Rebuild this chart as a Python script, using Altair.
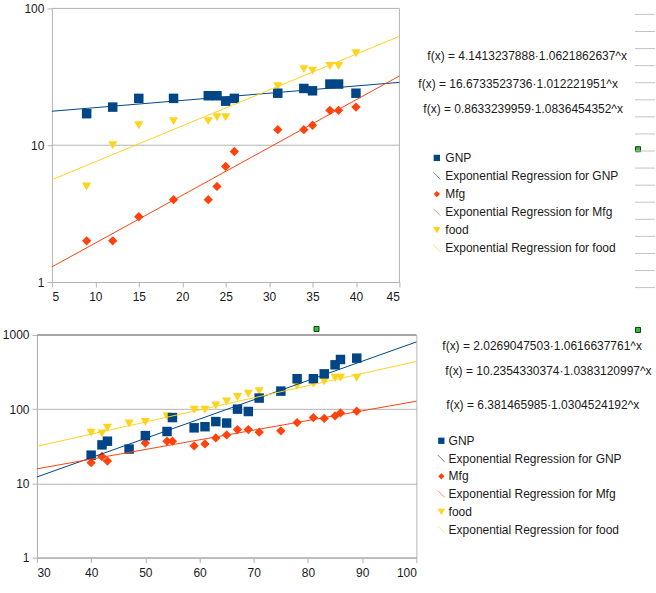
import altair as alt
import pandas as pd

FONT = "Liberation Sans"
GRAY = "#b3b3b3"
TXT = "#1a1a1a"

SERIES = ["GNP", "Mfg", "food"]
COLORS = ["#004586", "#ff420e", "#ffd320"]
LINE_COLORS = ["#1f4e82", "#f0603a", "#f5d54a"]
SHAPES = ["square", "diamond", "triangle-down"]
SIZES = [90, 85, 120]
LEG_SIZES = [40, 40, 55]

# ---------------- top chart data ----------------
top_gnp_x = [9, 12, 15, 19, 23, 24, 25, 26, 31, 34, 35, 37, 38, 40]
top_gnp_y = [17, 19, 22, 22, 23, 23, 21, 22, 24, 26, 25, 28, 28, 24]
top_mfg_x = [9, 12, 15, 19, 23, 24, 25, 26, 31, 34, 35, 37, 38, 40]
top_mfg_y = [2, 2, 3, 4, 4, 5, 7, 9, 13, 13, 14, 18, 18, 19]
top_food_x = [9, 12, 15, 19, 23, 24, 25, 31, 34, 35, 37, 38, 40]
top_food_y = [5, 10, 14, 15, 15, 16, 16, 27, 36, 35, 38, 38, 47]
top_reg_a = [16.6733523736, 0.8633239959, 4.1413237888]
top_reg_b = [1.012221951, 1.0836454352, 1.0621862637]
top_equations = [
    "f(x) = 4.1413237888·1.0621862637^x",
    "f(x) = 16.6733523736·1.012221951^x",
    "f(x) = 0.8633239959·1.0836454352^x",
]
top_x_domain = [5, 45]
top_x_ticks = [5, 10, 15, 20, 25, 30, 35, 40, 45]
top_y_domain = [1, 100]
top_y_ticks = [1, 10, 100]

# ---------------- bottom chart data ----------------
bot_gnp_x = [40, 42, 43, 47, 50, 54, 55, 59, 61, 63, 65, 67, 69, 71, 75, 78, 81, 83, 85, 86, 89]
bot_gnp_y = [24, 33, 37, 29, 44, 50, 77, 56, 58, 68, 65, 100, 93, 141, 175, 257, 257, 299, 396, 467, 487]
bot_mfg_x = [40, 42, 43, 50, 54, 55, 59, 61, 63, 65, 67, 69, 71, 75, 78, 81, 83, 85, 86, 89]
bot_mfg_y = [19, 23, 20, 35, 37, 37, 32, 34, 41, 45, 53, 53, 49, 51, 66, 77, 75, 81, 89, 94]
bot_food_x = [40, 42, 43, 47, 50, 54, 59, 61, 63, 65, 67, 69, 71, 78, 81, 83, 85, 86, 89]
bot_food_y = [48, 47, 56, 64, 67, 80, 98, 98, 112, 127, 146, 161, 175, 205, 220, 236, 265, 265, 265]
bot_reg_a = [2.0269047503, 6.381465985, 10.2354330374]
bot_reg_b = [1.0616637761, 1.0304524192, 1.0383120997]
bot_equations = [
    "f(x) = 2.0269047503·1.0616637761^x",
    "f(x) = 10.2354330374·1.0383120997^x",
    "f(x) = 6.381465985·1.0304524192^x",
]
bot_x_domain = [30, 100]
bot_x_ticks = [30, 40, 50, 60, 70, 80, 90, 100]
bot_y_domain = [1, 1000]
bot_y_ticks = [1, 10, 100, 1000]

legend_labels = [
    "GNP", "Exponential Regression for GNP",
    "Mfg", "Exponential Regression for Mfg",
    "food", "Exponential Regression for food",
]


def points_frame(xs_list, ys_list):
    rows = []
    # draw food first, GNP last (GNP on top)
    for s, xs, ys in reversed(list(zip(SERIES, xs_list, ys_list))):
        for xv, yv in zip(xs, ys):
            rows.append({"series": s, "x": xv, "y": yv})
    return pd.DataFrame(rows)


def reg_frame(a_list, b_list, xdom):
    rows = []
    for s, a, b in zip(SERIES, a_list, b_list):
        for xv in xdom:
            rows.append({"series": s, "a": a, "b": b, "x": xv})
    return pd.DataFrame(rows)


def panel(pts, reg, xdom, xticks, ydom, yticks, w, h, inset,
          eqs, eq_pos, leg_sym_x, leg_txt_x, leg_y0, leg_dy, extras, top_frame_width):
    xsc = alt.Scale(domain=xdom, range=[inset, w], nice=False, zero=False)
    ysc = alt.Scale(type="log", domain=ydom, nice=False)
    xax = alt.Axis(values=xticks, grid=False, tickSize=5, labelPadding=5)
    if inset > 0:
        yax = alt.Axis(values=yticks, grid=False, tickSize=5, labelPadding=3,
                       format="d", offset=-inset, minExtent=0)
    else:
        yax = alt.Axis(values=yticks, grid=True, tickSize=5, labelPadding=3,
                       format="d", minExtent=36)
    color = alt.Color("series:N", scale=alt.Scale(domain=SERIES, range=COLORS), legend=None)
    lcolor = alt.Color("series:N", scale=alt.Scale(domain=SERIES, range=LINE_COLORS), legend=None)

    layers = []
    if inset > 0:
        # grid lines at the decades and the right-hand frame of the plot area
        layers.append(
            alt.Chart(pd.DataFrame({"g": yticks[1:]})).mark_rule(color=GRAY, strokeWidth=1).encode(
                y=alt.Y("g:Q", scale=ysc, axis=yax, title=None),
                x=alt.value(inset), x2=alt.value(w),
            )
        )
        layers.append(
            alt.Chart(pd.DataFrame({"g": [0]})).mark_rule(color=GRAY, strokeWidth=1).encode(
                x=alt.value(w), y=alt.value(0), y2=alt.value(h),
            )
        )
    else:
        layers.append(
            alt.Chart(pd.DataFrame({"g": yticks[-1:]})).mark_rule(
                color="#a6a6a6", strokeWidth=top_frame_width
            ).encode(
                y=alt.Y("g:Q", scale=ysc, axis=yax, title=None),
                x=alt.value(0), x2=alt.value(w),
            )
        )

    points = alt.Chart(pts).mark_point(filled=True, opacity=1).encode(
        x=alt.X("x:Q", scale=xsc, axis=xax, title=None),
        y=alt.Y("y:Q", scale=ysc, axis=yax, title=None),
        color=color,
        shape=alt.Shape("series:N", scale=alt.Scale(domain=SERIES, range=SHAPES), legend=None),
        size=alt.Size("series:N", scale=alt.Scale(domain=SERIES, range=SIZES), legend=None),
    )
    lines = alt.Chart(reg).transform_calculate(
        y="datum.a * pow(datum.b, datum.x)"
    ).mark_line(strokeWidth=1).encode(
        x=alt.X("x:Q", scale=xsc, title=None),
        y=alt.Y("y:Q", scale=ysc, title=None),
        color=lcolor,
        detail="series:N",
    )
    layers += [points, lines]

    for txt, (px, py) in zip(eqs, eq_pos):
        layers.append(
            alt.Chart(pd.DataFrame({"t": [txt]})).mark_text(
                align="left", baseline="middle", font=FONT, fontSize=12, color=TXT
            ).encode(x=alt.value(px), y=alt.value(py), text="t:N")
        )

    for i, lab in enumerate(legend_labels):
        si = i // 2
        yy = leg_y0 + i * leg_dy
        if i % 2 == 0:
            layers.append(
                alt.Chart(pd.DataFrame({"t": [lab]})).mark_point(
                    filled=True, opacity=1, shape=SHAPES[si], size=LEG_SIZES[si], color=COLORS[si]
                ).encode(x=alt.value(leg_sym_x), y=alt.value(yy))
            )
        else:
            layers.append(
                alt.Chart(pd.DataFrame({"t": [lab]})).mark_rule(
                    color=LINE_COLORS[si], strokeWidth=1, opacity=0.7
                ).encode(x=alt.value(leg_sym_x - 3.5), x2=alt.value(leg_sym_x + 3.5),
                         y=alt.value(yy - 3.5), y2=alt.value(yy + 3.5))
            )
        layers.append(
            alt.Chart(pd.DataFrame({"t": [lab]})).mark_text(
                align="left", baseline="middle", font=FONT, fontSize=12, color=TXT
            ).encode(x=alt.value(leg_txt_x), y=alt.value(yy), text="t:N")
        )

    layers.extend(extras)
    ch = alt.layer(*layers).properties(width=w, height=h)
    if inset > 0:
        ch = ch.properties(view=alt.ViewBackground(stroke="transparent"))
    return ch


def green_handle(px, py):
    return alt.Chart(pd.DataFrame({"t": ["h"]})).mark_square(
        size=25, fill="#2fc42f", stroke="#14391a", strokeWidth=1, opacity=1
    ).encode(x=alt.value(px), y=alt.value(py))


def edge_dash(x1, x2, py):
    return alt.Chart(pd.DataFrame({"t": ["d"]})).mark_rule(
        color="#c4c4c4", strokeWidth=1
    ).encode(x=alt.value(x1), x2=alt.value(x2), y=alt.value(py))


# both panels share the page origin x = 36; top plot area is inset by 15px (starts at 51)
# top panel origin in page: (36, 8)
top_extras = [green_handle(602, 141)]
for k in range(17):
    top_extras.append(edge_dash(599, 619, 6 + k * 17.1))

top = panel(
    points_frame([top_gnp_x, top_mfg_x, top_food_x], [top_gnp_y, top_mfg_y, top_food_y]),
    reg_frame(top_reg_a, top_reg_b, top_x_domain),
    top_x_domain, top_x_ticks, top_y_domain, top_y_ticks, 363, 274, 15,
    top_equations, [(391, 47.5), (382, 76), (387, 100.5)],
    400.5, 409, 149.7, 18.1, top_extras, 1,
)

# bottom panel origin in page: (36, 336)
bot_extras = [green_handle(280, -6), green_handle(602, -5)]
bottom = panel(
    points_frame([bot_gnp_x, bot_mfg_x, bot_food_x], [bot_gnp_y, bot_mfg_y, bot_food_y]),
    reg_frame(bot_reg_a, bot_reg_b, bot_x_domain),
    bot_x_domain, bot_x_ticks, bot_y_domain, bot_y_ticks, 380, 223, 0,
    bot_equations, [(406, 11.5), (409, 36), (410, 70)],
    405, 412.3, 106, 17.8, bot_extras, 2,
)

chart = alt.vconcat(top, bottom, spacing=20).properties(
    padding={"left": 0, "top": 1, "right": 0, "bottom": 0},
    background="white",
).configure_view(
    stroke=GRAY, strokeWidth=1
).configure_axis(
    labelFont=FONT, labelFontSize=12, labelColor=TXT,
    domainColor=GRAY, tickColor=GRAY, gridColor=GRAY,
)

chart.save("out.html", embed_options={"renderer": "svg", "actions": False})
